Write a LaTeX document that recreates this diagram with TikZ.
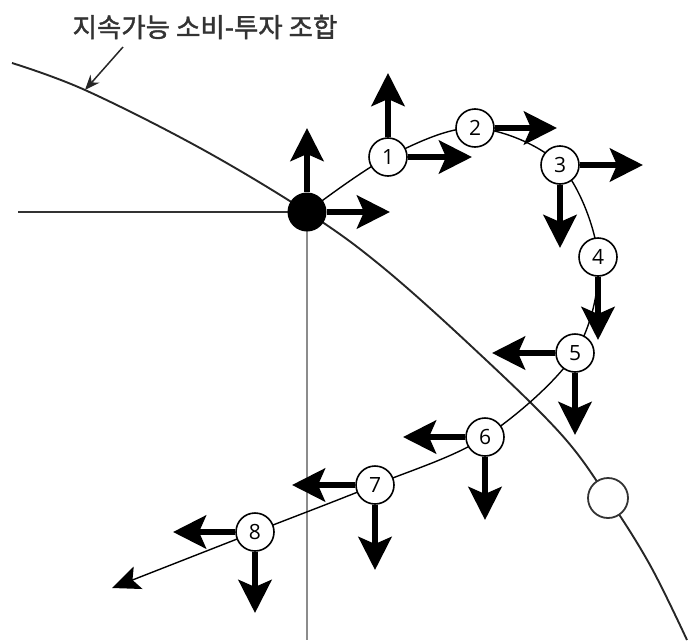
\documentclass[tikz,border=0pt]{standalone}
\usepackage{fontspec}
\setmainfont{Open Sans}
\newfontfamily\krfont[FakeBold=1.5]{Noto Sans CJK KR}
\usetikzlibrary{arrows.meta}
\begin{document}
\begin{tikzpicture}[x=1pt,y=-1pt,
  bigarrow/.style={line width=6pt,-{Stealth[length=33pt,width=33pt,inset=7pt]}},
  numcirc/.style={circle,draw=black,line width=1.6pt,fill=white,minimum size=38pt,inner sep=0pt,font=\fontsize{21}{23}\selectfont},
  pathline/.style={line width=1.4pt,black},
  ppf/.style={line width=1.9pt,black!85}]
\useasboundingbox (0,0) rectangle (688,640);
% axes
\coordinate (hx) at (18,212);
\coordinate (vb) at (307,640);
\coordinate (o) at (307,212);
\draw[line width=1.6pt,black!80] (hx) -- (o);
\draw[line width=2.6pt,black!45] (o) -- (vb);
% frontier
\draw[ppf] plot[smooth,tension=0.6] coordinates {(12,63) (85,90) (200,148) (307,212) (380,265) (470,345) (560,433) (608,498) (650,565) (687,640)};
\node[circle,draw=black!80,line width=1.8pt,fill=white,minimum size=40pt,inner sep=0pt] (open) at (608,498) {};
% label
\node[font=\krfont\fontsize{26.5}{30}\selectfont,text=black!80] (title) at (205,27) {지속가능 소비-투자 조합};
\coordinate (ls) at (123,47);
\coordinate (le) at (85,90);
\draw[line width=1.5pt,black!85,-{Stealth[length=15pt,width=12pt]}] (ls) -- (le);
% path points
\coordinate (p1) at (388,157);
\coordinate (p2) at (475,128);
\coordinate (p3) at (560,165);
\coordinate (p4) at (598,257);
\coordinate (p5) at (575,353);
\coordinate (p6) at (485,437);
\coordinate (p7) at (375,485);
\coordinate (p8) at (255,532);
\coordinate (pend) at (112,588);
\draw[pathline,-{Stealth[length=28pt,width=24pt,inset=6pt]}] plot[smooth,tension=0.55] coordinates {(o) (p1) (p2) (p3) (p4) (p5) (p6) (p7) (p8) (pend)};
% dot
\node[circle,fill=black,minimum size=39pt,inner sep=0pt] (dot) at (o) {};
\node[numcirc] (n1) at (p1) {1};
\node[numcirc] (n2) at (p2) {2};
\node[numcirc] (n3) at (p3) {3};
\node[numcirc] (n4) at (p4) {4};
\node[numcirc] (n5) at (p5) {5};
\node[numcirc] (n6) at (p6) {6};
\node[numcirc] (n7) at (p7) {7};
\node[numcirc] (n8) at (p8) {8};
% arrow tips
\coordinate (du) at (307,128);
\coordinate (dr) at (390,212);
\coordinate (u1) at (388,73);
\coordinate (r1) at (472,157);
\coordinate (r2) at (557,128);
\coordinate (r3) at (643,165);
\coordinate (d3) at (560,248);
\coordinate (d4) at (598,340);
\coordinate (l5) at (492,353);
\coordinate (d5) at (575,435);
\coordinate (l6) at (403,437);
\coordinate (d6) at (485,520);
\coordinate (l7) at (292,485);
\coordinate (d7) at (375,570);
\coordinate (l8) at (173,532);
\coordinate (d8) at (255,613);
\draw[bigarrow] (dot.north) -- (du);
\draw[bigarrow] (dot.east) -- (dr);
\draw[bigarrow] (n1.north) -- (u1);
\draw[bigarrow] (n1.east) -- (r1);
\draw[bigarrow] (n2.east) -- (r2);
\draw[bigarrow] (n3.east) -- (r3);
\draw[bigarrow] (n3.south) -- (d3);
\draw[bigarrow] (n4.south) -- (d4);
\draw[bigarrow] (n5.west) -- (l5);
\draw[bigarrow] (n5.south) -- (d5);
\draw[bigarrow] (n6.west) -- (l6);
\draw[bigarrow] (n6.south) -- (d6);
\draw[bigarrow] (n7.west) -- (l7);
\draw[bigarrow] (n7.south) -- (d7);
\draw[bigarrow] (n8.west) -- (l8);
\draw[bigarrow] (n8.south) -- (d8);
\end{tikzpicture}
\end{document}
